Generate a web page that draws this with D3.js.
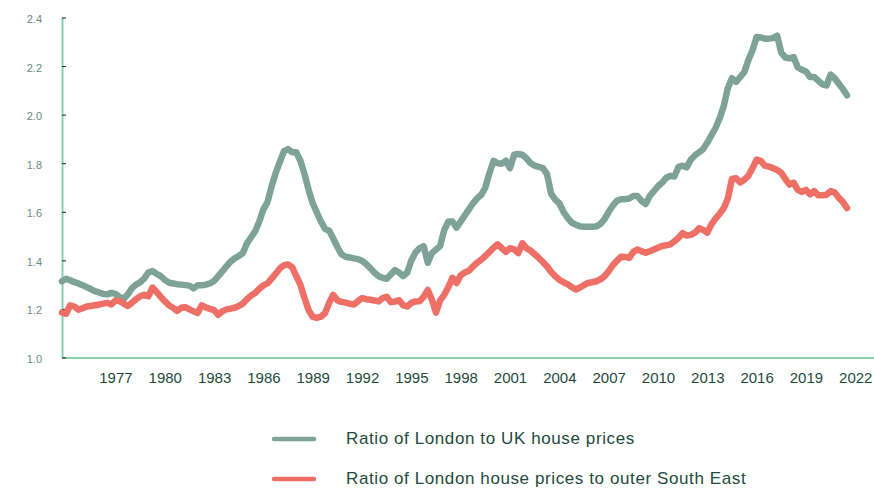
<!DOCTYPE html>
<html>
<head>
<meta charset="utf-8">
<script src="https://cdn.jsdelivr.net/npm/d3@7"></script>
<style>
  body { margin: 0; background: #fff; }
  svg text { font-family: 'Liberation Sans', Arial, sans-serif; }
</style>
</head>
<body>
<div id="chart"></div>
<script>
'use strict';

let WIDTH = 874;
let HEIGHT = 489;

// quarterly series, first quarter is 1973 Q4
let FIRST_QUARTER = 1973.75;

let londonToUk = [
  1.314, 1.324, 1.318, 1.31, 1.305, 1.298, 1.29, 1.282, 1.273, 1.268,
  1.261, 1.26, 1.266, 1.262, 1.25, 1.241, 1.26, 1.285, 1.30, 1.31,
  1.325, 1.35, 1.356, 1.345, 1.335, 1.32, 1.308, 1.305, 1.302, 1.30,
  1.298, 1.296, 1.285, 1.297, 1.297, 1.30, 1.305, 1.315, 1.335, 1.355,
  1.375, 1.395, 1.408, 1.418, 1.43, 1.47, 1.495, 1.52, 1.56, 1.61,
  1.64, 1.705, 1.76, 1.805, 1.85, 1.858, 1.845, 1.845, 1.81, 1.755,
  1.69, 1.635, 1.597, 1.56, 1.53, 1.522, 1.49, 1.455, 1.425, 1.415,
  1.412, 1.408, 1.405, 1.398, 1.385, 1.368, 1.35, 1.335, 1.328, 1.324,
  1.342, 1.36, 1.35, 1.335, 1.35, 1.40, 1.432, 1.45, 1.458, 1.39,
  1.43, 1.445, 1.459, 1.525, 1.56, 1.56, 1.535, 1.56, 1.585, 1.61,
  1.635, 1.655, 1.67, 1.70, 1.76, 1.81, 1.80, 1.798, 1.81, 1.78,
  1.835, 1.838, 1.835, 1.82, 1.80, 1.79, 1.785, 1.78, 1.755, 1.675,
  1.65, 1.635, 1.60, 1.575, 1.555, 1.547, 1.54, 1.538, 1.538, 1.538,
  1.54, 1.55, 1.57, 1.60, 1.625, 1.645, 1.652, 1.652, 1.655, 1.665,
  1.665, 1.645, 1.632, 1.665, 1.685, 1.705, 1.72, 1.74, 1.748, 1.745,
  1.785, 1.79, 1.783, 1.815, 1.832, 1.845, 1.858, 1.885, 1.915, 1.945,
  1.985, 2.035, 2.11, 2.15, 2.135, 2.155, 2.175, 2.225, 2.265, 2.32,
  2.318, 2.313, 2.313, 2.315, 2.325, 2.255, 2.235, 2.232, 2.237, 2.195,
  2.185, 2.178, 2.155, 2.155, 2.14, 2.125, 2.12, 2.165, 2.15, 2.127,
  2.105, 2.08
];

let londonToOuterSE = [
  1.185, 1.18, 1.215, 1.21, 1.197, 1.203, 1.21, 1.212, 1.215, 1.218,
  1.222, 1.225, 1.218, 1.235, 1.233, 1.222, 1.212, 1.225, 1.24, 1.252,
  1.258, 1.252, 1.288, 1.27, 1.25, 1.232, 1.215, 1.205, 1.192, 1.205,
  1.207, 1.198, 1.19, 1.183, 1.215, 1.206, 1.20, 1.195, 1.176, 1.19,
  1.198, 1.201, 1.205, 1.212, 1.222, 1.24, 1.255, 1.266, 1.283, 1.297,
  1.305, 1.325, 1.345, 1.367, 1.38, 1.383, 1.372, 1.335, 1.30, 1.245,
  1.195, 1.167, 1.163, 1.168, 1.183, 1.225, 1.258, 1.235, 1.229, 1.226,
  1.222, 1.218, 1.232, 1.245, 1.24, 1.238, 1.235, 1.231, 1.245, 1.25,
  1.228, 1.23, 1.236, 1.215, 1.21, 1.225, 1.231, 1.232, 1.25, 1.278,
  1.238, 1.185, 1.235, 1.258, 1.29, 1.328, 1.307, 1.338, 1.35, 1.357,
  1.375, 1.39, 1.403, 1.418, 1.435, 1.452, 1.466, 1.45, 1.435, 1.45,
  1.445, 1.43, 1.47, 1.45, 1.44, 1.425, 1.41, 1.393, 1.375, 1.352,
  1.335, 1.32, 1.31, 1.302, 1.29, 1.28, 1.288, 1.298, 1.307, 1.31,
  1.314, 1.322, 1.335, 1.355, 1.38, 1.398, 1.415, 1.414, 1.41, 1.435,
  1.445, 1.438, 1.431, 1.438, 1.445, 1.452, 1.459, 1.462, 1.466, 1.478,
  1.493, 1.512, 1.502, 1.505, 1.514, 1.532, 1.525, 1.514, 1.548, 1.572,
  1.592, 1.615, 1.655, 1.735, 1.738, 1.721, 1.732, 1.748, 1.78, 1.815,
  1.81, 1.79, 1.786, 1.78, 1.772, 1.76, 1.735, 1.712, 1.72, 1.69,
  1.682, 1.69, 1.672, 1.685, 1.668, 1.668, 1.67, 1.685, 1.68, 1.658,
  1.64, 1.615
];

let xTickYears = [1977, 1980, 1983, 1986, 1989, 1992, 1995, 1998, 2001, 2004, 2007, 2010, 2013, 2016, 2019, 2022];
let yTicks = [1.0, 1.2, 1.4, 1.6, 1.8, 2.0, 2.2, 2.4];

let SERIES = [
  { name: 'Ratio of London to UK house prices', values: londonToUk, color: '#7fa298' },
  { name: 'Ratio of London house prices to outer South East', values: londonToOuterSE, color: '#ee6f66' },
];

let svg = d3.select('#chart')
  .append('svg')
  .attr('width', WIDTH)
  .attr('height', HEIGHT);

let x = d3.scaleLinear()
  .domain([FIRST_QUARTER, 2023.14])
  .range([62, 874]);

let y = d3.scaleLinear()
  .domain([1.0, 2.4])
  .range([357.5, 17.5]);

// x axis
let xAxis = svg.append('g')
  .attr('transform', 'translate(0,' + y(1.0) + ')')
  .call(d3.axisBottom(x)
    .tickValues(xTickYears)
    .tickFormat(d3.format('d'))
    .tickSize(0)
    .tickPadding(15));
xAxis.select('.domain').attr('stroke', '#86d0ad').attr('stroke-width', 2);
xAxis.selectAll('text')
  .attr('fill', '#1e4a3c')
  .style('font-size', '15px');

// y axis, ticks point inward
let yAxis = svg.append('g')
  .attr('transform', 'translate(' + x(FIRST_QUARTER) + ',0)')
  .call(d3.axisLeft(y)
    .tickValues(yTicks)
    .tickFormat(d3.format('.1f'))
    .tickSizeInner(-4)
    .tickSizeOuter(0)
    .tickPadding(20));
yAxis.select('.domain').attr('stroke', '#86d0ad').attr('stroke-width', 2);
yAxis.selectAll('.tick line').attr('stroke', '#222').attr('stroke-width', 1);
yAxis.selectAll('text')
  .attr('fill', '#6a8a80')
  .attr('dy', '0.45em')
  .style('font-size', '11px');

let line = d3.line()
  .x((d, i) => x(FIRST_QUARTER + i * 0.25))
  .y(d => y(d));

svg.selectAll('.series')
  .data(SERIES)
  .enter()
  .append('path')
  .attr('class', 'series')
  .attr('d', s => line(s.values))
  .attr('fill', 'none')
  .attr('stroke', s => s.color)
  .attr('stroke-width', 6.5)
  .attr('stroke-linejoin', 'round')
  .attr('stroke-linecap', 'round');

// legend
let legend = svg.selectAll('.legend')
  .data(SERIES)
  .enter()
  .append('g')
  .attr('class', 'legend')
  .attr('transform', (s, i) => 'translate(274,' + (439 + i * 40) + ')');

legend.append('line')
  .attr('x1', 0)
  .attr('x2', 40)
  .attr('stroke', s => s.color)
  .attr('stroke-width', 4.5)
  .attr('stroke-linecap', 'round');

legend.append('text')
  .attr('x', 72)
  .attr('y', 5)
  .attr('fill', '#1e4a3c')
  .style('font-size', '17px')
  .style('letter-spacing', '0.6px')
  .text(s => s.name);
</script>
</body>
</html>
